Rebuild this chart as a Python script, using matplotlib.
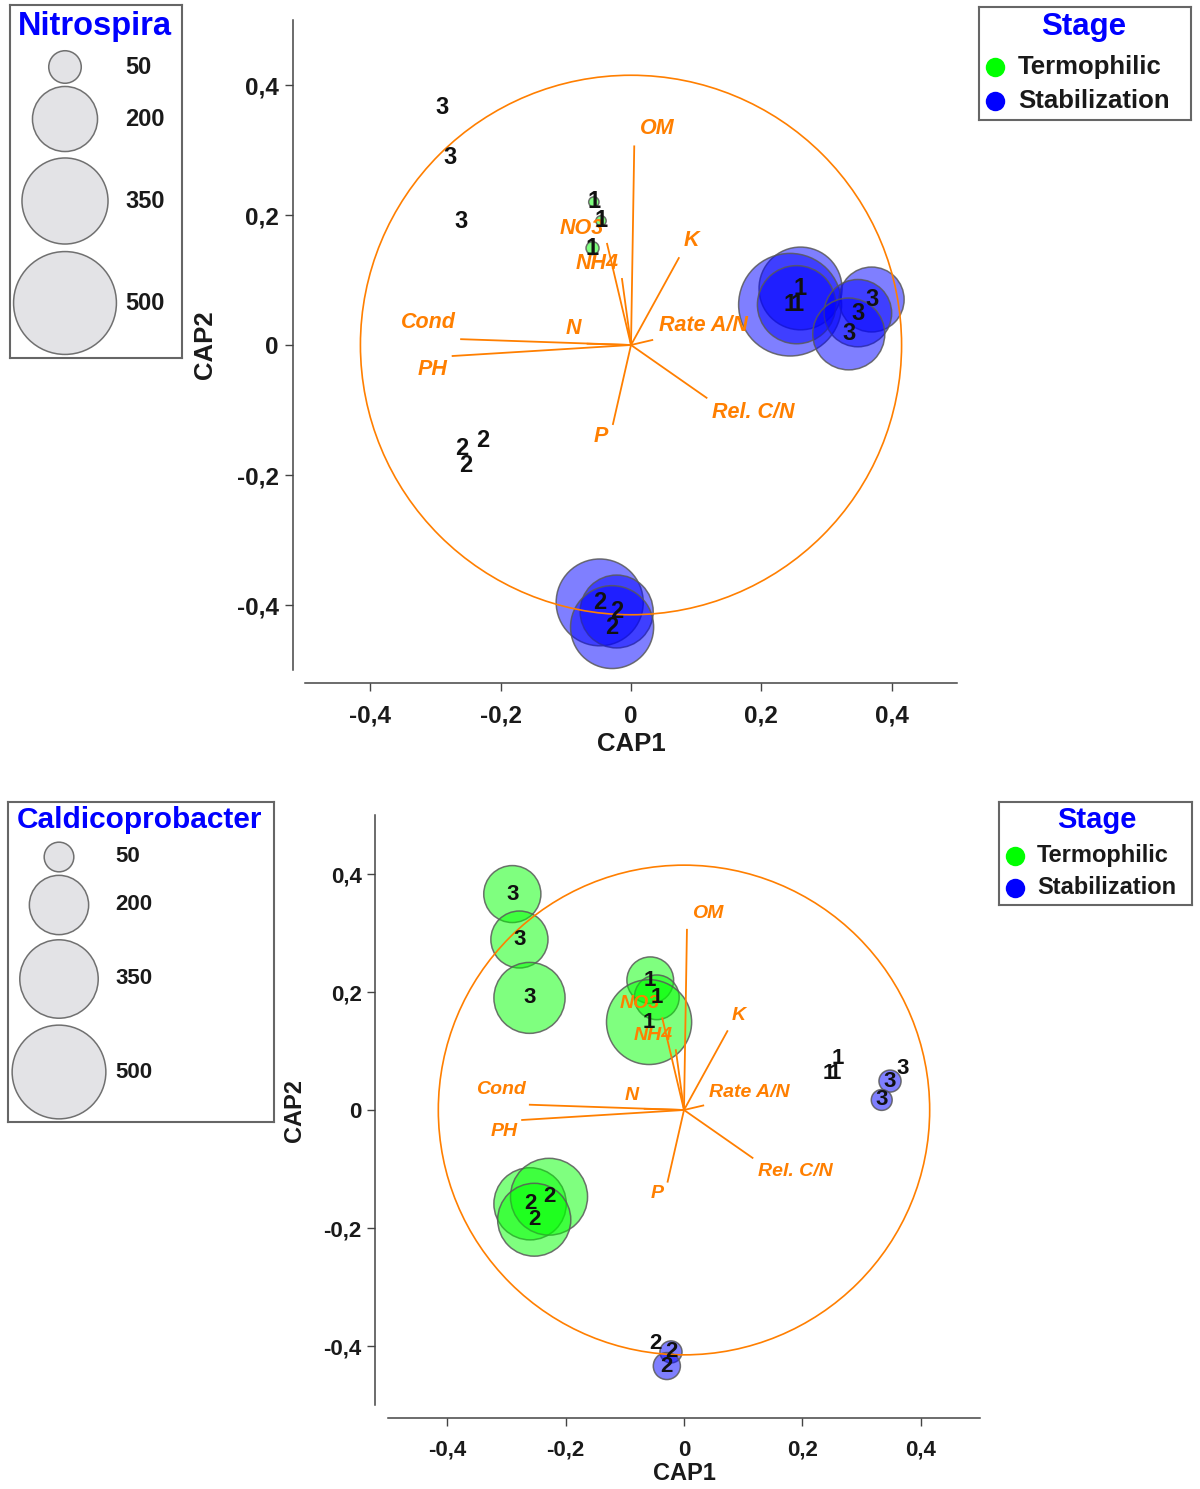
import matplotlib
matplotlib.use('Agg')
import matplotlib.pyplot as plt
from matplotlib.patches import Circle
import numpy as np

plt.rcParams['font.family'] = ['Liberation Sans', 'DejaVu Sans']

# ---------------- data ----------------
groups = ['1', '1', '1', '2', '2', '2', '3', '3', '3'] * 2
stages = ['Termophilic'] * 9 + ['Stabilization'] * 9
cap1 = [-0.057, -0.046, -0.059, -0.260, -0.228, -0.253, -0.290, -0.278, -0.261,
        0.260, 0.244, 0.254, -0.048, -0.022, -0.029, 0.369, 0.348, 0.334]
cap2 = [0.220, 0.191, 0.149, -0.159, -0.147, -0.186, 0.366, 0.289, 0.190,
        0.087, 0.062, 0.062, -0.396, -0.410, -0.434, 0.070, 0.049, 0.017]
nitrospira = [5, 5, 8, 0, 0, 0, 0, 0, 0,
              325, 500, 290, 358, 252, 326, 200, 215, 245]
caldicoprobacter = [125, 115, 415, 300, 340, 306, 187, 187, 290,
                    0, 0, 0, 0, 28, 42, 0, 28, 25]

vec_names = ['OM', 'K', 'NO3', 'NH4', 'Rate A/N', 'Rel. C/N', 'P', 'N', 'Cond', 'PH']
vec_x = [0.005, 0.074, -0.037, -0.014, 0.034, 0.117, -0.028, -0.068, -0.262, -0.275]
vec_y = [0.307, 0.135, 0.157, 0.103, 0.008, -0.082, -0.123, 0.002, 0.009, -0.017]
circle_radius = 0.415

tick_values = [-0.4, -0.2, 0, 0.2, 0.4]
tick_labels = ['-0,4', '-0,2', '0', '0,2', '0,4']
legend_sizes = [50, 200, 350, 500]
stage_names = ['Termophilic', 'Stabilization']

# ---------------- style ----------------
ORANGE = '#FF7F00'
STAGE_COL = {'Termophilic': (0.0, 1.0, 0.0), 'Stabilization': (0.0, 0.0, 1.0)}
EDGE = (0.35, 0.35, 0.35, 0.85)
R_SCALE = 0.00353  # bubble radius (data units) per sqrt(value)
# label offsets for vector names (layout only)
lab_off = {'OM': (0.035, 0.026), 'K': (0.018, 0.025), 'NO3': (-0.038, 0.023),
           'NH4': (-0.038, 0.023), 'Rate A/N': (0.077, 0.022), 'Rel. C/N': (0.071, -0.022),
           'P': (-0.018, -0.018), 'N': (-0.020, 0.023), 'Cond': (-0.048, 0.025),
           'PH': (-0.029, -0.020)}

W, H = 1200, 1489
fig = plt.figure(figsize=(W / 100, H / 100), dpi=100)


def px_axes(l, t, r, b):
    return fig.add_axes([l / W, 1 - b / H, (r - l) / W, (b - t) / H])


def draw_panel(rect, values, fs_tick, fs_lab, fs_vec, fs_pt, xlab_y, ylab_x):
    ax = px_axes(*rect)
    ax.set_xlim(-0.5, 0.5)
    ax.set_ylim(-0.5, 0.5)
    for s in ['top', 'right']:
        ax.spines[s].set_visible(False)
    for s in ['left', 'bottom']:
        ax.spines[s].set_position(('outward', 9))
        ax.spines[s].set_color('#444444')
        ax.spines[s].set_linewidth(1.1)
    ax.set_xticks(tick_values)
    ax.set_xticklabels(tick_labels)
    ax.set_yticks(tick_values)
    ax.set_yticklabels(tick_labels)
    ax.tick_params(axis='both', direction='out', length=6, width=1, color='#444444',
                   labelsize=fs_tick)
    ax.tick_params(axis='x', pad=10)
    ax.tick_params(axis='y', pad=4)
    for lab in ax.get_xticklabels() + ax.get_yticklabels():
        lab.set_fontweight('bold')
        lab.set_color('#1a1a1a')
    ax.set_xlabel('CAP1', fontsize=fs_lab, fontweight='bold', color='#1a1a1a')
    ax.set_ylabel('CAP2', fontsize=fs_lab, fontweight='bold', color='#1a1a1a')
    ax.xaxis.set_label_coords(0.5, xlab_y)
    ax.xaxis.label.set_va('center')
    ax.yaxis.set_label_coords(ylab_x, 0.5)
    ax.yaxis.label.set_va('center')

    # bubbles
    for x, y, v, st in zip(cap1, cap2, values, stages):
        if v > 0:
            c = STAGE_COL[st]
            ax.add_patch(Circle((x, y), R_SCALE * np.sqrt(v), facecolor=(*c, 0.5),
                                edgecolor=EDGE, lw=1.1, zorder=2))
    # correlation circle + vectors
    ax.add_patch(Circle((0, 0), circle_radius, fill=False, edgecolor=ORANGE, lw=1.2, zorder=3))
    for name, vx, vy in zip(vec_names, vec_x, vec_y):
        ax.plot([0, vx], [0, vy], color=ORANGE, lw=1.3, zorder=3, solid_capstyle='butt')
        dx, dy = lab_off[name]
        ax.text(vx + dx, vy + dy, name, color=ORANGE, fontsize=fs_vec, fontstyle='italic',
                fontweight='bold', ha='center', va='center', zorder=4)
    # sample labels
    for x, y, g in zip(cap1, cap2, groups):
        ax.text(x, y, g, fontsize=fs_pt, fontweight='bold', color='#111111',
                ha='center', va='center', zorder=5)
    return ax


def box_axes(l, t, r, b):
    ax = px_axes(l, t, r, b)
    ax.set_xlim(0, r - l)
    ax.set_ylim(b - t, 0)
    ax.set_xticks([])
    ax.set_yticks([])
    for s in ax.spines.values():
        s.set_color('#666666')
        s.set_linewidth(1.5)
    return ax


def bubble_legend(rect, title, fs_title, fs_num, title_pos, cx, cys, lab_x, px_per_unit):
    ax = box_axes(*rect)
    ax.text(title_pos[0], title_pos[1], title, color='#0000FF', fontsize=fs_title,
            fontweight='bold', ha='center', va='center')
    for v, cy in zip(legend_sizes, cys):
        rad = R_SCALE * np.sqrt(v) * px_per_unit
        ax.add_patch(Circle((cx, cy), rad, facecolor='#E3E3E6', edgecolor='#707070', lw=1.1))
        ax.text(lab_x, cy, str(v), fontsize=fs_num, fontweight='bold', color='#1a1a1a',
                ha='left', va='center')
    ax.set_aspect('equal', adjustable='datalim')


def stage_legend(rect, fs_title, fs_item, title_pos, mx, ys, lab_x, msize):
    ax = box_axes(*rect)
    ax.text(title_pos[0], title_pos[1], 'Stage', color='#0000FF', fontsize=fs_title,
            fontweight='bold', ha='center', va='center')
    for st, y in zip(stage_names, ys):
        ax.plot([mx], [y], 'o', color=STAGE_COL[st], markersize=msize, mec='none')
        ax.text(lab_x, y, st, fontsize=fs_item, fontweight='bold', color='#1a1a1a',
                ha='left', va='center')


# ---------------- top panel: Nitrospira ----------------
draw_panel((305, 20, 957, 670), nitrospira, fs_tick=17.5, fs_lab=18.5, fs_vec=15.5,
           fs_pt=17, xlab_y=-(744 - 670) / 650, ylab_x=(205 - 305) / 652)
bubble_legend((10, 5, 182, 358), 'Nitrospira', 23.5, 17, (85, 22), 55,
              [62, 114, 196, 298], 115, 651.5)
stage_legend((979, 7, 1191, 120), 22.5, 18.5, (105, 20), 16, [60, 94], 39, 14)

# ---------------- bottom panel: Caldicoprobacter ----------------
draw_panel((388, 815, 980, 1405), caldicoprobacter, fs_tick=16, fs_lab=17, fs_vec=14,
           fs_pt=16, xlab_y=-(1473 - 1405) / 590, ylab_x=(295 - 388) / 592)
bubble_legend((8, 802, 274, 1122), 'Caldicoprobacter', 21.5, 16, (132, 18), 51,
              [55, 103, 177, 270], 107, 593.75)
stage_legend((999, 802, 1192, 905), 21, 17, (98, 18), 16, [54, 86], 38, 14)

fig.savefig('out.png', dpi=100)
